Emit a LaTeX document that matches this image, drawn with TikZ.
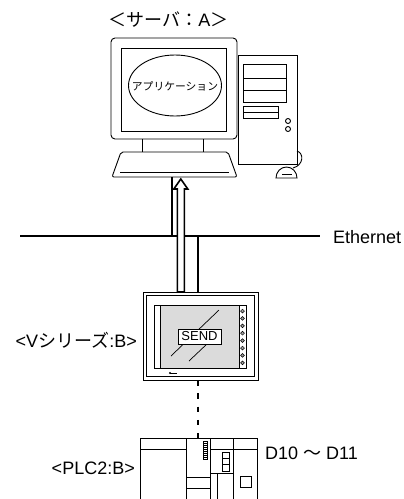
\documentclass[tikz,border=0pt]{standalone}
\usepackage{fontspec}
\setmainfont{Liberation Sans}
\newfontfamily\cjk{Noto Sans CJK JP}
\definecolor{lcd}{gray}{0.86}
\begin{document}
\begin{tikzpicture}[x=1pt,y=-1pt,
  hw/.style={draw=black,line width=0.9pt},
  link/.style={draw=black,line width=2pt},
  ethernet/.style={draw=black,line width=2.2pt},
  hollowarrow/.style={draw=black,fill=white,line width=1.6pt,line join=miter},
  serial/.style={draw=black,line width=2.4pt,dash pattern=on 5.5pt off 7.8pt},
  lbl/.style={inner sep=0pt,font=\fontsize{18}{21}\selectfont},
  apptext/.style={inner sep=0pt,font=\cjk\fontsize{10.8}{12}\selectfont},
  sendbox/.style={draw=black,fill=white,line width=0.9pt,minimum width=43pt,minimum height=15pt,inner sep=0pt,font=\fontsize{13}{15}\selectfont}
]
\useasboundingbox (0,0) rectangle (404,499);

% ---------------- server A: tower, mouse, monitor, keyboard ----------------
\draw[hw] (238,55) rectangle (297,164);
\draw[hw] (243,64) rectangle (286,102);
\draw[hw] (243,78) -- (286,78) (243,90) -- (286,90);
\draw[hw] (243,106) rectangle (278,118);
\draw[hw] (243,112) -- (278,112);
\draw[hw] (288,121) circle (2.5) (288,129) circle (2.5);
\draw[hw] (297,151) .. controls (304,153) and (304,165) .. (293,168);
\draw[hw,fill=white] (276,178) arc[start angle=180,end angle=360,x radius=10.5,y radius=11] -- cycle;
\draw[hw] (282,174) -- (292,174);

\draw[hw,fill=white,rounded corners=4] (111,38) rectangle (237,139);
\draw[hw] (121,48) rectangle (226,131);
\draw[hw] (175,85.5) ellipse[x radius=46.5,y radius=30.5];
\node[apptext] (app) at (175,86) {アプリケーション};
\draw[hw] (142,139) -- (142,152) (203,139) -- (203,152);
\draw[hw,fill=white,rounded corners=2] (121,152) -- (228,152) -- (237,177) -- (112,177) -- cycle;
\draw[hw] (120,172) -- (229,172);

\node[lbl] (title) at (168.5,20) {{\cjk ＜サーバ：}A{\cjk ＞}};

% ---------------- network ----------------
\coordinate (kbdL) at (172,177);
\coordinate (ethL) at (172,236);
\coordinate (ethR) at (198,236);
\coordinate (panelTop) at (198,292);
\coordinate (ethW) at (20,236);
\coordinate (ethE) at (320,236);
\coordinate (arrowFoot) at (180.8,292);

\draw[ethernet] (ethW) -- (ethE);
\node[lbl,anchor=west] (ethlabel) at (333,237.5) {Ethernet};
\draw[link] (kbdL) -- (ethL);
\draw[link] (ethR) -- (panelTop);
\draw[hollowarrow] (arrowFoot) ++(-3.5,0) -- ++(0,-103) -- ++(-3.5,0) -- ++(7,-10)
  -- ++(7,10) -- ++(-3.5,0) -- ++(0,103) -- cycle;

% ---------------- V series panel B ----------------
\draw[hw,fill=white] (143,292) rectangle (258,380);
\draw[hw] (146.5,295.5) rectangle (254.5,376.5);
\draw[hw,fill=lcd] (160,305) rectangle (239,368);
\draw[hw] (154,305) rectangle (246,368);
\foreach \i in {0,...,7}
  \draw[draw=black,fill=gray!75,line width=0.5pt] (242.5,{311+\i*7.4}) circle (1.9);
\fill (170,373) circle (1.2);
\draw[line width=0.5pt] (170,373) -- (177,373);
\draw[line width=0.7pt] (171,356) -- (219,310);
\draw[line width=0.7pt] (189,361) -- (208,343);
\node[sendbox] (send) at (199.5,336.5) {SEND};
\node[lbl,anchor=east] (vlabel) at (137,340) {<V{\cjk シリーズ}:B>};

\coordinate (panelBot) at (198,380);
\coordinate (plcTop) at (198,438);
\draw[serial] (panelBot) -- (plcTop);

% ---------------- PLC2 B ----------------
\draw[hw] (140,499) -- (140,438) -- (257,438) -- (257,499);
\draw[hw] (186,438) -- (186,499) (210,438) -- (210,499) (233,438) -- (233,499);
\draw[hw] (140,449) -- (186,449) (210,449) -- (257,449);
\draw[hw] (186,477) -- (210,477) (186,488) -- (210,488);
\draw[line width=0.6pt] (203,441) rectangle (207.5,459);
\foreach \y in {443,445,...,457} \draw[line width=0.5pt] (203,\y) -- (207.5,\y);
\draw[hw] (222,452) rectangle (229,471);
\draw[hw] (222,458.3) -- (229,458.3) (222,464.7) -- (229,464.7);
\draw[hw] (210,473) -- (233,473) (217,473) -- (217,499);
\draw[hw] (240,476) rectangle (251,487);
\node[lbl,anchor=east] (plclabel) at (135,468) {<PLC2:B>};
\node[lbl,anchor=west] (devlabel) at (265,453) {D10 {\cjk ～} D11};
\end{tikzpicture}
\end{document}
